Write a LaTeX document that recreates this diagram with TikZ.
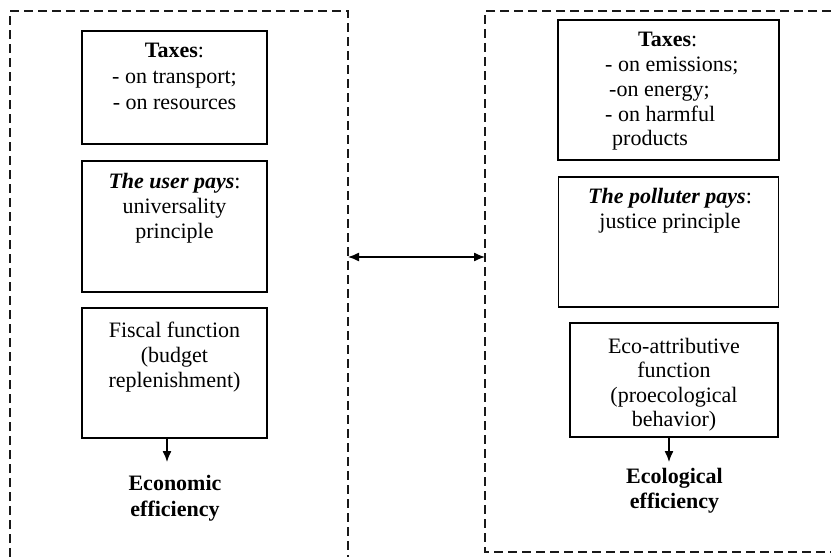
\documentclass[tikz,border=0pt]{standalone}
\usepackage{fontspec}
\setmainfont{Liberation Serif}
\usetikzlibrary{arrows.meta}
\newcommand\stackc[2]{\vtop{\baselineskip=#1\lineskiplimit=-100bp\halign{\hfil##\hfil\cr#2\crcr}}}
\newcommand\stackl[2]{\vtop{\baselineskip=#1\lineskiplimit=-100bp\halign{##\hfil\cr#2\crcr}}}
\tikzset{
  box/.style={draw, line width=1.2bp, inner sep=0pt, rectangle},
  txt/.style={anchor=base, inner sep=0pt, font=\fontsize{22bp}{25bp}\selectfont},
  frame/.style={draw, line width=1.1bp, dash pattern=on 9bp off 5bp, black!90},
  arr/.style={-{Latex[length=11bp,width=9bp]}, line width=1.3bp},
  dbl/.style={{Latex[length=11bp,width=9bp]}-{Latex[length=11bp,width=9bp]}, line width=1.3bp}
}
\begin{document}
\begin{tikzpicture}[x=1bp,y=-1bp]
\useasboundingbox (0,0) rectangle (831,557);
% frames
\draw[frame] (10,557) -- (10,11) -- (348,11) -- (348,557);
\draw[frame] (831,11) -- (485,11) -- (485,552) -- (831,552);
\coordinate (fL) at (348,257);
\coordinate (fR) at (485,257);
\draw[dbl] (fL) -- (fR);
% left boxes
\node[box, minimum width=185bp, minimum height=113bp] (L1) at (174.5,87.5) {};
\node[box, minimum width=185bp, minimum height=131bp] (L2) at (174.5,226.5) {};
\node[box, minimum width=185bp, minimum height=130bp] (L3) at (174.5,373) {};
% right boxes
\node[box, minimum width=221bp, minimum height=140bp] (R1) at (668.5,90) {};
\node[box, minimum width=220bp, minimum height=130bp] (R2) at (668.5,242) {};
\node[box, minimum width=208bp, minimum height=114bp] (R3) at (674,380) {};
% texts
\node[txt] (tL1) at (174.5,58) {\stackc{26bp}{\textbf{Taxes}:\cr - on transport;\cr - on resources}};
\node[txt] (tL2) at (174.5,189) {\stackc{25bp}{\textbf{\textit{The user pays}}:\cr universality\cr principle}};
\node[txt] (tL3) at (174.5,337) {\stackc{25bp}{Fiscal function\cr (budget\cr replenishment)}};
\node[txt] (econ) at (175,490) {\stackc{26bp}{\textbf{Economic}\cr\textbf{efficiency}}};
\node[txt, anchor=base west] (tR1) at (605,47) {\stackl{24.75bp}{\hspace*{33bp}\textbf{Taxes}:\cr - on emissions;\cr \hspace*{4bp}-on energy;\cr - on harmful\cr \hspace*{7bp}products}};
\node[txt] (tR2) at (670,204) {\stackc{25bp}{\textbf{\textit{The polluter pays}}:\cr justice principle}};
\node[txt] (tR3) at (674,353) {\stackc{24.5bp}{Eco-attributive\cr function\cr (proecological\cr behavior)}};
\node[txt] (ecol) at (674.5,483) {\stackc{25bp}{\textbf{Ecological}\cr\textbf{efficiency}}};
% arrows
\coordinate (econTip) at (167,462);
\coordinate (ecolTip) at (669,462);
\draw[arr] (L3.south -| econTip) -- (econTip);
\draw[arr] (R3.south -| ecolTip) -- (ecolTip);
\end{tikzpicture}
\end{document}
